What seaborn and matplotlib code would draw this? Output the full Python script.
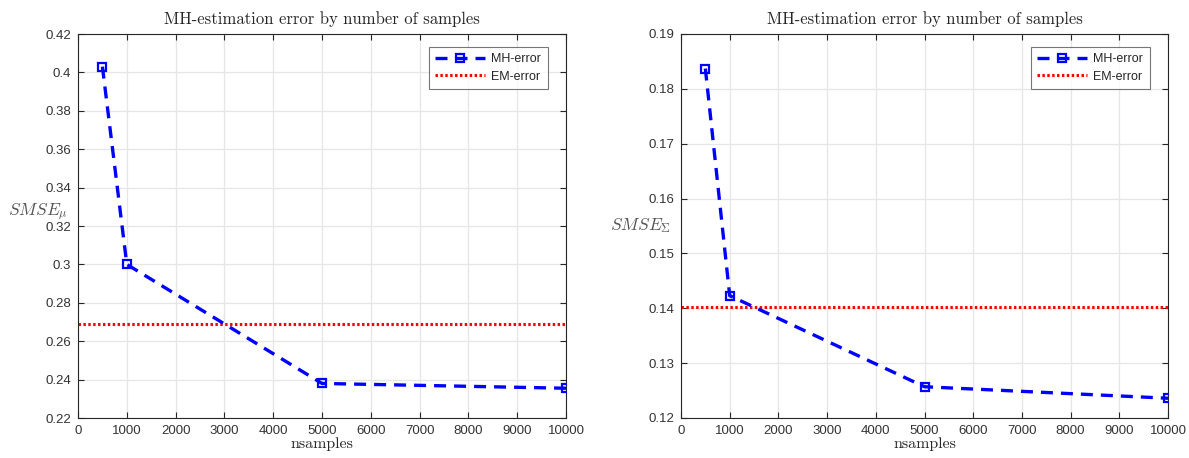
import matplotlib
matplotlib.use("Agg")
import matplotlib.pyplot as plt
import seaborn as sns
import pandas as pd
import numpy as np

nsamples = [500, 1000, 5000, 10000]
mh_err_mu = [0.403, 0.300, 0.238, 0.2355]
em_err_mu = 0.269
mh_err_sigma = [0.1837, 0.1423, 0.1257, 0.1236]
em_err_sigma = 0.1402

title = "MH-estimation error by number of samples"
xlabel = "nsamples"
ylabels = [r"$SMSE_\mu$", r"$SMSE_\Sigma$"]
yticks_list = [np.round(np.arange(0.22, 0.4201, 0.02), 2), np.round(np.arange(0.12, 0.1901, 0.01), 2)]
ylims = [(0.22, 0.42), (0.12, 0.19)]
xticks = list(range(0, 10001, 1000))
ylabel_coords = [(-0.082, 0.536), (-0.084, 0.5)]

sns.set_theme(style="ticks")
plt.rcParams["font.family"] = ["Liberation Sans", "DejaVu Sans"]
plt.rcParams["mathtext.fontset"] = "cm"

fig = plt.figure(figsize=(11.89, 4.58), dpi=100)
positions = [[78/1189, 1-418/458, (566-78)/1189, (418-34)/458],
             [681/1189, 1-418/458, (1168-681)/1189, (418-34)/458]]
axcol = "#262626"
datasets = [(mh_err_mu, em_err_mu), (mh_err_sigma, em_err_sigma)]

for i, (mh, em) in enumerate(datasets):
    ax = fig.add_axes(positions[i])
    df = pd.DataFrame({"nsamples": nsamples, "err": mh})
    sns.lineplot(data=df, x="nsamples", y="err", ax=ax, color="#0000ff",
                 linestyle=(0, (3.6, 2.4)), linewidth=2.4, marker="s",
                 markersize=6, markerfacecolor="none", markeredgecolor="#0000ff",
                 markeredgewidth=1.6, label="MH-error", zorder=3)
    ax.axhline(em, color="#ff0000", linestyle=(0, (0.8, 0.8)), linewidth=2.2,
               label="EM-error", zorder=2)
    ax.set_xlim(0, 10000)
    ax.set_ylim(*ylims[i])
    ax.set_xticks(xticks)
    ax.set_xticklabels([str(t) for t in xticks])
    ax.set_yticks(yticks_list[i])
    ax.set_yticklabels([f"{t:g}" for t in yticks_list[i]])
    ax.grid(True, color="#e6e6e6", linewidth=0.9)
    ax.set_axisbelow(True)
    for s in ax.spines.values():
        s.set_color(axcol)
        s.set_linewidth(0.8)
        s.set_visible(True)
    ax.tick_params(direction="in", length=4, width=0.8, colors=axcol,
                   labelsize=9.5, top=True, right=True, labelcolor="#333333", pad=5)
    ax.set_title(title, family="cmr10", fontsize=12, color=axcol, pad=7)
    ax.set_xlabel(xlabel, family="cmr10", fontsize=11.5, color=axcol, labelpad=0)
    ax.set_ylabel(ylabels[i], rotation=0, fontsize=12.5, color="#555555",
                  ha="center", va="center")
    ax.yaxis.set_label_coords(*ylabel_coords[i])
    leg = ax.legend(loc="upper right", fontsize=9, frameon=True, fancybox=False,
                    edgecolor="#555555", handlelength=4.0, borderpad=0.5,
                    labelspacing=0.45, handletextpad=0.5,
                    bbox_to_anchor=(0.975, 0.983))
    leg.get_frame().set_linewidth(0.8)

fig.savefig("out.png", dpi=100)
